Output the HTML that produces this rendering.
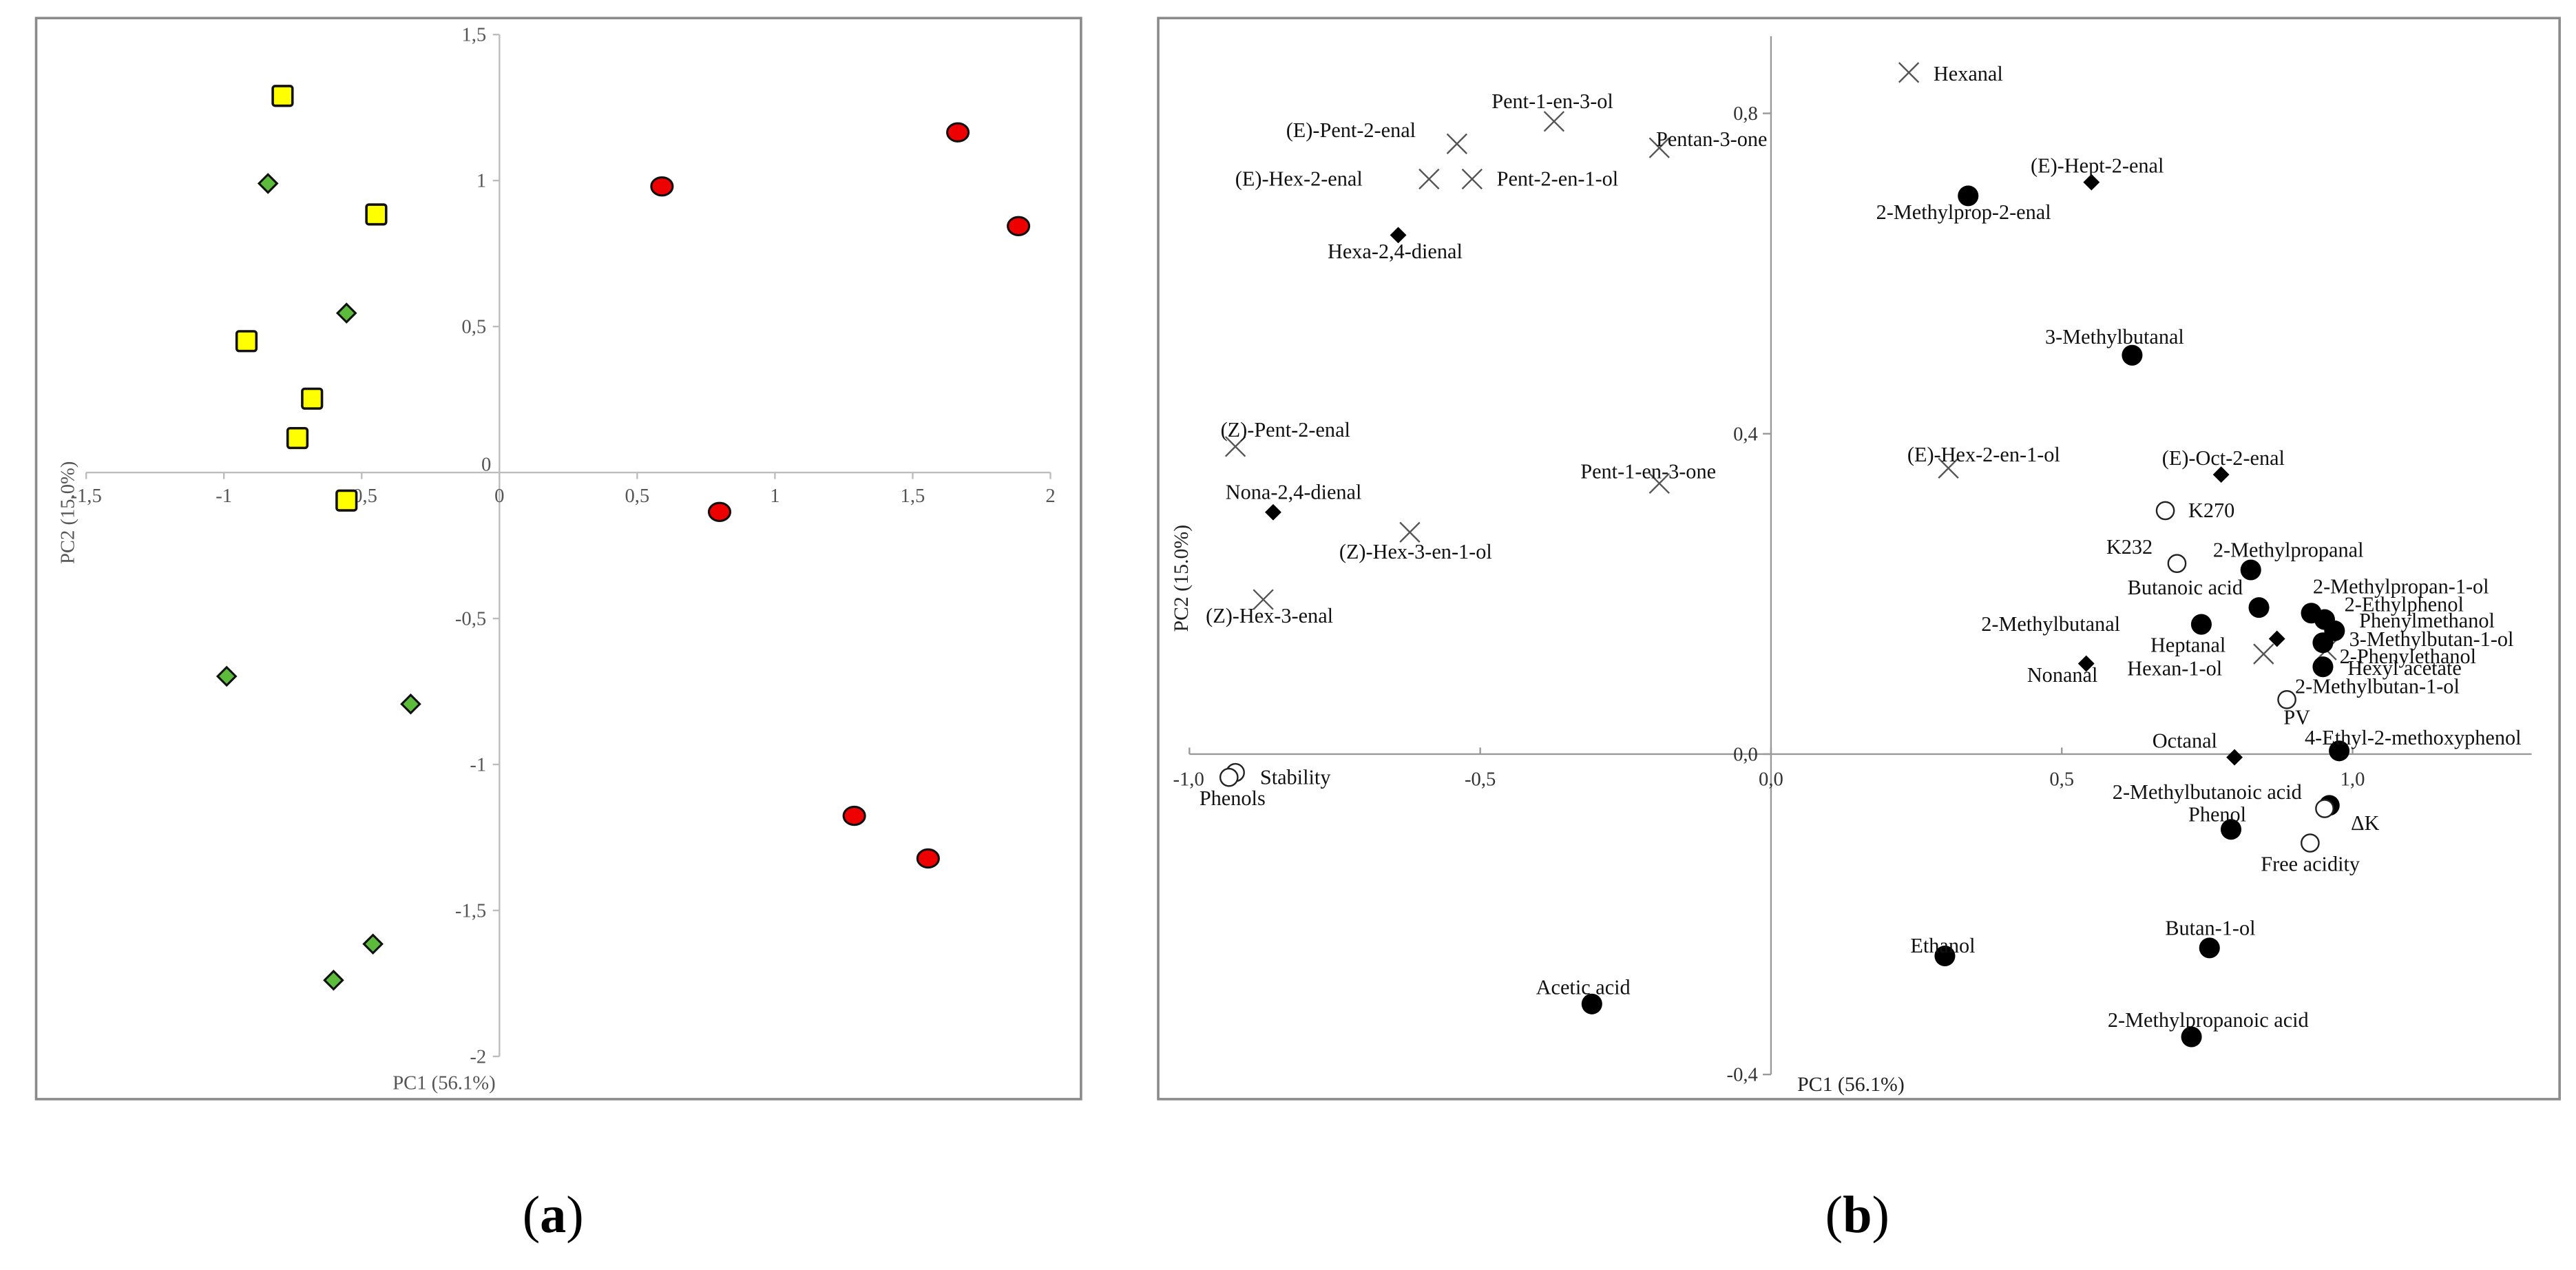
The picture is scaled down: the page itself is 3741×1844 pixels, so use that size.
<!DOCTYPE html>
<html><head><meta charset="utf-8"><style>
html,body{margin:0;padding:0;background:#fff;}
svg{display:block;}
text{font-family:"Liberation Serif",serif;}
</style></head><body>
<svg id="fig" width="3741" height="1844" viewBox="0 0 1568 773" preserveAspectRatio="none" xmlns="http://www.w3.org/2000/svg">
<rect x="22" y="11" width="636" height="658" fill="#fff" stroke="#8a8a8a" stroke-width="1.5"/>
<rect x="705" y="11" width="853" height="658" fill="#fff" stroke="#8a8a8a" stroke-width="1.5"/>
<g id="ga"></g>
<g id="gb"></g>
<text x="318" y="750" font-size="32">(<tspan font-weight="bold">a</tspan>)</text>
<text x="1111" y="750" font-size="32">(<tspan font-weight="bold">b</tspan>)</text>
</svg>
<script>
// ---------- Panel (a) data: scores ----------
const aXTicks = [-1.5,-1,-0.5,0,0.5,1,1.5,2];
const aXTickLabels = ["-1,5","-1","-0,5","0","0,5","1","1,5","2"];
const aYTicks = [1.5,1,0.5,0,-0.5,-1,-1.5,-2];
const aYTickLabels = ["1,5","1","0,5","0","-0,5","-1","-1,5","-2"];
const squaresX = [-0.787,-0.447,-0.918,-0.68,-0.733,-0.555];
const squaresY = [1.29,0.884,0.45,0.253,0.118,-0.096];
const diamondsX = [-0.84,-0.555,-0.99,-0.322,-0.459,-0.602];
const diamondsY = [0.99,0.546,-0.698,-0.793,-1.615,-1.739];
const redX = [0.59,1.664,1.884,0.799,1.288,1.556];
const redY = [0.98,1.165,0.844,-0.135,-1.176,-1.322];

// ---------- Panel (b) data: loadings ----------
const bXTicks = [-1,-0.5,0,0.5,1];
const bXTickLabels = ["-1,0","-0,5","0,0","0,5","1,0"];
const bYTicks = [0.8,0.4,0,-0.4];
const bYTickLabels = ["0,8","0,4","0,0","-0,4"];
const crossNames = ["Hexanal","Pent-1-en-3-ol","(E)-Pent-2-enal","Pentan-3-one","(E)-Hex-2-enal","Pent-2-en-1-ol","(Z)-Pent-2-enal","Pent-1-en-3-one","(E)-Hex-2-en-1-ol","(Z)-Hex-3-en-1-ol","(Z)-Hex-3-enal","Hexan-1-ol","2-Phenylethanol"];
const crossX = [0.237,-0.373,-0.54,-0.192,-0.588,-0.514,-0.921,-0.192,0.305,-0.621,-0.873,0.847,0.955];
const crossY = [0.851,0.79,0.762,0.757,0.718,0.718,0.384,0.338,0.357,0.277,0.193,0.125,0.13];
const diaNames = ["(E)-Hept-2-enal","Hexa-2,4-dienal","(E)-Oct-2-enal","Nona-2,4-dienal","Nonanal","Heptanal","Octanal"];
const diaX = [0.551,-0.641,0.774,-0.856,0.542,0.87,0.797];
const diaY = [0.714,0.648,0.349,0.302,0.113,0.144,-0.004];
const dotNames = ["2-Methylprop-2-enal","3-Methylbutanal","2-Methylpropanal","Butanoic acid","2-Methylbutanal","2-Methylpropan-1-ol","2-Ethylphenol","Phenylmethanol","3-Methylbutan-1-ol","Hexyl acetate","4-Ethyl-2-methoxyphenol","2-Methylbutanoic acid","Phenol","Butan-1-ol","Ethanol","Acetic acid","2-Methylpropanoic acid"];
const dotX = [0.339,0.621,0.825,0.839,0.74,0.929,0.952,0.969,0.949,0.949,0.977,0.96,0.791,0.754,0.299,-0.308,0.723];
const dotY = [0.697,0.498,0.23,0.183,0.162,0.176,0.168,0.154,0.139,0.109,0.004,-0.064,-0.094,-0.242,-0.252,-0.312,-0.353];
const openNames = ["K270","K232","PV","ΔK","Free acidity","Stability","Phenols","2-Methylbutan-1-ol"];
const openX = [0.678,0.698,0.887,0.952,0.927,-0.921,-0.932];
const openY = [0.304,0.238,0.068,-0.068,-0.111,-0.023,-0.029];

// label offsets (styling): [dx, dy] relative to the marker
const crossLab = [[15,5],[-38,-8],[-104,-4],[-2,-1],[-118,4],[15,4],[-9,-6],[-48,-3],[-25,-4],[-43,16],[-35,14],[-83,13],[0,0]];
const diaLab = [[-37,-6],[-43,14],[-36,-6],[-29,-8],[-36,11],[-77,8],[-50,-6]];
const dotLab = [[-56,14],[-53,-7],[-23,-8],[-80,-8],[-134,4],[1,-12],[12,-5],[15,-2],[16,2],[15,5],[-21,-4],[-132,-4],[-26,-5],[-27,-8],[-21,-2],[-34,-6],[-51,-6]];
const openLab = [[14,4],[-43,-6],[-2,15],[16,13],[-30,17],[15,7],[-18,17]];

const NS="http://www.w3.org/2000/svg";
function mk(parent,tag,attrs){const e=document.createElementNS(NS,tag);for(const k in attrs)e.setAttribute(k,attrs[k]);parent.appendChild(e);return e;}

// ----- Panel a axes -----
const ax = v => 304 + v*167.7;
const ay = v => 287.6 - v*177.7;
const ga=document.getElementById('ga');
let l=mk(ga,'line',{x1:ax(-1.5),y1:ay(0),x2:ax(2),y2:ay(0),stroke:'#bdbdbd','stroke-width':1});


l=mk(ga,'line',{x1:ax(0),y1:ay(1.5),x2:ax(0),y2:ay(-2),stroke:'#bdbdbd','stroke-width':1});


aXTicks.forEach((v,i)=>{
  mk(ga,'line',{x1:ax(v),y1:ay(0),x2:ax(v),y2:ay(0)+4,stroke:'#bdbdbd'});
  const t=mk(ga,'text',{x:ax(v),y:ay(0)+18,'font-size':12,'text-anchor':'middle',fill:'#555'});
  t.textContent=aXTickLabels[i];
  
  
});
aYTicks.forEach((v,i)=>{
  if(v===0){const t=mk(ga,'text',{x:ax(0)-5,y:ay(0)-1,'font-size':12,'text-anchor':'end',fill:'#555'});t.textContent='0';
  
  return;}
  mk(ga,'line',{x1:ax(0)-4,y1:ay(v),x2:ax(0),y2:ay(v),stroke:'#bdbdbd'});
  const t=mk(ga,'text',{x:ax(0)-8,y:ay(v)+4,'font-size':12,'text-anchor':'end',fill:'#555'});
  t.textContent=aYTickLabels[i];
  
  
});
let t=mk(ga,'text',{x:239,y:663,'font-size':12,fill:'#555'});t.textContent='PC1 (56.1%)';


t=mk(ga,'text',{x:0,y:0,'font-size':12,fill:'#555','text-anchor':'middle',transform:'translate(45,312) rotate(-90)'});t.textContent='PC2 (15.0%)';


squaresX.forEach((v,i)=>{
  const e=mk(ga,'rect',{x:ax(v)-6,y:ay(squaresY[i])-6,width:12,height:12,rx:1.5,fill:'#ffff00',stroke:'#111','stroke-width':1.5});
  
  
});
diamondsX.forEach((v,i)=>{
  const cx=ax(v),cy=ay(diamondsY[i]);
  const e=mk(ga,'polygon',{points:`${cx},${cy-5.5} ${cx+5.5},${cy} ${cx},${cy+5.5} ${cx-5.5},${cy}`,fill:'#5dbb3c',stroke:'#111','stroke-width':1.3});
  
  
});
redX.forEach((v,i)=>{
  const e=mk(ga,'ellipse',{cx:ax(v),cy:ay(redY[i]),rx:6.5,ry:5.5,fill:'#ee0000',stroke:'#111','stroke-width':1.3});
  
  
});

// ----- Panel b axes -----
const bx = v => 1078 + v*354;
const by = v => 459 - v*487.5;
const gb=document.getElementById('gb');
l=mk(gb,'line',{x1:724,y1:by(0),x2:1541,y2:by(0),stroke:'#999','stroke-width':1});


l=mk(gb,'line',{x1:bx(0),y1:22,x2:bx(0),y2:by(-0.4),stroke:'#999','stroke-width':1});


bXTicks.forEach((v,i)=>{
  mk(gb,'line',{x1:bx(v),y1:by(0),x2:bx(v),y2:by(0)-4,stroke:'#999'});
  const t=mk(gb,'text',{x:bx(v)+(v===-1?-10:0),y:by(0)+19,'font-size':12,'text-anchor':v===-1?'start':'middle',fill:'#333'});
  t.textContent=bXTickLabels[i];
  
  
});
bYTicks.forEach((v,i)=>{
  mk(gb,'line',{x1:bx(0)-5,y1:by(v),x2:bx(0),y2:by(v),stroke:'#999'});
  const t=mk(gb,'text',{x:bx(0)-8,y:by(v)+4,'font-size':12,'text-anchor':'end',fill:'#333'});
  t.textContent=bYTickLabels[i];
  
  
});
t=mk(gb,'text',{x:1094,y:664,'font-size':12.5,fill:'#222'});t.textContent='PC1 (56.1%)';


t=mk(gb,'text',{x:0,y:0,'font-size':12.5,fill:'#222','text-anchor':'middle',transform:'translate(723,352) rotate(-90)'});t.textContent='PC2 (15.0%)';



function label(x,y,s){const t=mk(gb,'text',{x:x,y:y,'font-size':12.7,fill:'#111'});t.textContent=s;
  
  }
crossX.forEach((v,i)=>{
  const cx=bx(v),cy=by(crossY[i]);
  const e=mk(gb,'path',{d:`M${cx-6} ${cy-6}L${cx+6} ${cy+6}M${cx-6} ${cy+6}L${cx+6} ${cy-6}`,stroke:'#555','stroke-width':1,fill:'none'});
  
  
  if(i<12) label(cx+crossLab[i][0],cy+crossLab[i][1],crossNames[i]);
});
label(bx(0.955)+8,by(0.13)+8,crossNames[12]);
diaX.forEach((v,i)=>{
  const cx=bx(v),cy=by(diaY[i]);
  const e=mk(gb,'polygon',{points:`${cx},${cy-5} ${cx+5},${cy} ${cx},${cy+5} ${cx-5},${cy}`,fill:'#000'});
  
  
  label(cx+diaLab[i][0],cy+diaLab[i][1],diaNames[i]);
});
dotX.forEach((v,i)=>{
  const cx=bx(v),cy=by(dotY[i]);
  const e=mk(gb,'circle',{cx:cx,cy:cy,r:6.3,fill:'#000'});
  
  
  label(cx+dotLab[i][0],cy+dotLab[i][1],dotNames[i]);
});
openX.forEach((v,i)=>{
  const cx=bx(v),cy=by(openY[i]);
  const e=mk(gb,'circle',{cx:cx,cy:cy,r:5.3,fill:'#fff',stroke:'#222','stroke-width':1});
  
  
  label(cx+openLab[i][0],cy+openLab[i][1],openNames[i]);
});
label(1397,422,openNames[7]);
</script>
</body></html>
